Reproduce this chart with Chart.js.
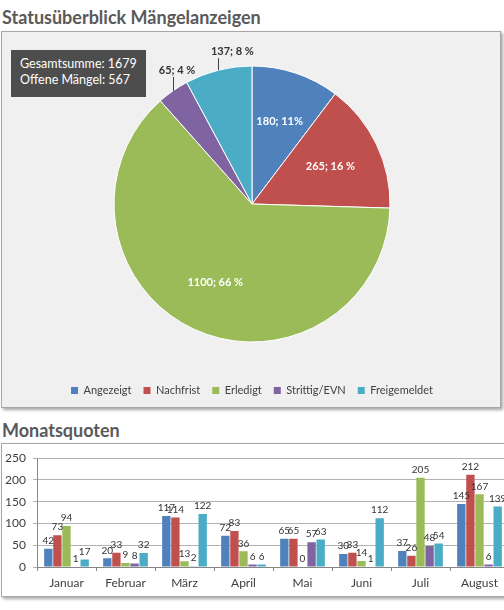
<!DOCTYPE html>
<html lang="de">
<head>
<meta charset="utf-8">
<script src="https://cdn.jsdelivr.net/npm/chart.js@4.4.1/dist/chart.umd.min.js"></script>
<style>
  html, body { margin: 0; padding: 0; background: #ffffff; width: 504px; height: 610px; overflow: hidden; }
  body { position: relative; font-family: Lato, "Open Sans", sans-serif; }
  .title { position: absolute; left: 2px; margin: 0; font-weight: bold; font-size: 18px; color: #595959; white-space: nowrap; }
  #t1 { top: 6px; }
  #t2 { top: 419px; }
  .panel { position: absolute; border: 1px solid #a6a6a6; box-shadow: 2px 2px 3px rgba(0,0,0,0.35); }
  #p1 { left: 1px; top: 31px; width: 498px; height: 375px; background: #f0f0f0; }
  #p2 { left: 1px; top: 443px; width: 520px; height: 152px; background: #ffffff; }
  #info { position: absolute; left: 11px; top: 50px; width: 135px; height: 47px; background: #4d4d4d; color: #ffffff;
          font-size: 12.5px; line-height: 15.5px; box-sizing: border-box; padding: 6px 0 0 9px; white-space: nowrap; z-index: 2; }
  canvas { position: absolute; left: 0; top: 0; }
</style>
</head>
<body>
<h1 class="title" id="t1">Statusüberblick Mängelanzeigen</h1>
<div class="panel" id="p1"><canvas id="pie" width="498" height="375"></canvas></div>
<div id="info">Gesamtsumme: 1679<br>Offene Mängel: 567</div>
<h1 class="title" id="t2">Monatsquoten</h1>
<div class="panel" id="p2"><canvas id="bar" width="520" height="152"></canvas></div>
<script>
// ---- data ----
const statusLabels = ["Angezeigt", "Nachfrist", "Erledigt", "Strittig/EVN", "Freigemeldet"];
const statusTotals = [180, 265, 1100, 65, 137];
const statusShares = ["11%", "16 %", "66 %", "4 %", "8 %"];

const months = ["Januar", "Februar", "März", "April", "Mai", "Juni", "Juli", "August"];
const angezeigt    = [42, 20, 117, 72, 65, 30, 37, 145];
const nachfrist    = [73, 33, 114, 83, 65, 33, 26, 212];
const erledigt     = [94, 9, 13, 36, 0, 14, 205, 167];
const strittig     = [1, 8, 2, 6, 57, 1, 48, 6];
const freigemeldet = [17, 32, 122, 6, 63, 112, 54, 139];

const colors = ["#4F81BD", "#C0504D", "#9BBB59", "#8064A2", "#4BACC6"];

Chart.defaults.font.family = "Lato, 'Open Sans', sans-serif";
Chart.defaults.color = "#404040";
Chart.defaults.animation = false;

// ---- pie labels plugin ----
const pieLabels = {
  id: "pieLabels",
  afterDatasetsDraw(chart) {
    const ctx = chart.ctx;
    const meta = chart.getDatasetMeta(0);
    ctx.save();
    meta.data.forEach((arc, i) => {
      const p = arc.getProps(["x", "y", "startAngle", "endAngle", "outerRadius"], true);
      const mid = (p.startAngle + p.endAngle) / 2;
      const text = statusTotals[i] + "; " + statusShares[i];
      ctx.font = "bold 11px Lato, 'Open Sans', sans-serif";
      ctx.textAlign = "center";
      if (i < 3) {
        const r = p.outerRadius * 0.63;
        ctx.fillStyle = "#ffffff";
        ctx.textBaseline = "middle";
        ctx.fillText(text, p.x + Math.cos(mid) * r, p.y + Math.sin(mid) * r);
      } else {
        const ex = p.x + Math.cos(mid) * p.outerRadius;
        const ey = p.y + Math.sin(mid) * p.outerRadius;
        const len = i === 4 ? 12 : 14;
        ctx.strokeStyle = "#404040";
        ctx.lineWidth = 1;
        ctx.beginPath();
        ctx.moveTo(Math.round(ex) + 0.5, ey);
        ctx.lineTo(Math.round(ex) + 0.5, ey - len);
        ctx.stroke();
        ctx.fillStyle = "#333333";
        ctx.textBaseline = "bottom";
        ctx.fillText(text, ex + (i === 4 ? 14 : 4), ey - len - 1);
      }
    });
    ctx.restore();
  }
};

new Chart(document.getElementById("pie"), {
  type: "pie",
  data: {
    labels: statusLabels,
    datasets: [{
      data: statusTotals,
      backgroundColor: colors,
      borderColor: "#ffffff",
      borderWidth: 1,
      radius: 138
    }]
  },
  options: {
    responsive: false,
    layout: { padding: { top: 3, bottom: 1, left: 2, right: 0 } },
    plugins: {
      tooltip: { enabled: false },
      legend: {
        position: "bottom",
        labels: {
          boxWidth: 7, boxHeight: 7, padding: 12,
          font: { size: 11 }, color: "#404040",
          generateLabels: (chart) => Chart.overrides.pie.plugins.legend.labels.generateLabels(chart)
            .map(l => Object.assign(l, { lineWidth: 0, strokeStyle: "rgba(0,0,0,0)" }))
        }
      }
    }
  },
  plugins: [pieLabels]
});

// ---- bar value labels plugin ----
const barValues = {
  id: "barValues",
  afterDatasetsDraw(chart) {
    const ctx = chart.ctx;
    ctx.save();
    ctx.font = "10px Lato, 'Open Sans', sans-serif";
    ctx.fillStyle = "#333333";
    ctx.textAlign = "center";
    ctx.textBaseline = "bottom";
    chart.data.datasets.forEach((ds, di) => {
      chart.getDatasetMeta(di).data.forEach((bar, j) => {
        ctx.fillText(String(ds.data[j]), bar.x, bar.y - 3);
      });
    });
    ctx.restore();
  }
};

const barSeries = [angezeigt, nachfrist, erledigt, strittig, freigemeldet];
new Chart(document.getElementById("bar"), {
  type: "bar",
  data: {
    labels: months,
    datasets: barSeries.map((vals, i) => ({
      label: statusLabels[i],
      data: vals,
      backgroundColor: colors[i],
      categoryPercentage: 0.77,
      barPercentage: 0.92
    }))
  },
  options: {
    responsive: false,
    layout: { padding: { top: 12, bottom: 0, left: 0, right: 13 } },
    plugins: { legend: { display: false }, tooltip: { enabled: false } },
    scales: {
      x: {
        grid: { offset: true, drawOnChartArea: false, tickLength: 4, color: "#868686" },
        border: { color: "#868686" },
        ticks: { font: { size: 12 }, color: "#404040", padding: 5 },
        afterFit: (s) => { s.height = 29; }
      },
      y: {
        min: 0, max: 250,
        ticks: { stepSize: 50, font: { size: 12 }, color: "#404040", padding: 7 },
        grid: { color: "#b3b3b3", tickLength: 4 },
        border: { color: "#868686" },
        afterFit: (s) => { s.width = 35; }
      }
    }
  },
  plugins: [barValues]
});
</script>
</body>
</html>
